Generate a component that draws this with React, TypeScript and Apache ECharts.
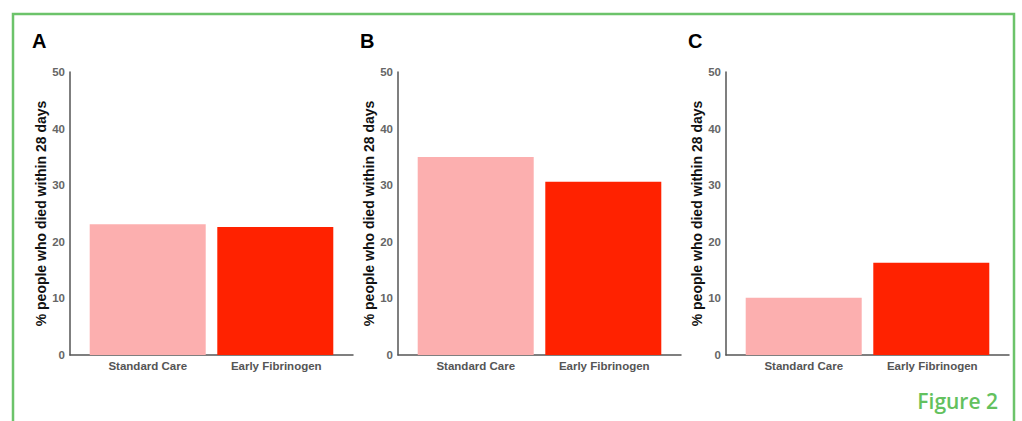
import React, { useEffect, useRef } from "react";
import * as echarts from "echarts";

const categories = ["Standard Care", "Early Fibrinogen"];
const panelLetters = ["A", "B", "C"];
const standardCare = [23.1, 35.0, 10.1];
const earlyFibrinogen = [22.6, 30.6, 16.3];
const yMin = 0;
const yMax = 50;
const yInterval = 10;
const yAxisTitle = "% people who died within 28 days";
const figureTitle = "Figure 2";

const gridLefts = [70, 398, 726];
const FONT = "'Liberation Sans', Arial, sans-serif";

export default function App() {
  const ref = useRef<HTMLDivElement>(null);
  useEffect(() => {
    if (!ref.current) return;
    const chart = echarts.init(ref.current, undefined, { renderer: "svg" });
    const grids = gridLefts.map((left) => ({ left, top: 72, width: 283, height: 283 }));
    const labelBase = { color: "#555", fontWeight: "bold", fontSize: 11.5, fontFamily: FONT };
    const xAxes = gridLefts.map((_, i) => ({
      type: "category",
      gridIndex: i,
      data: categories,
      axisLine: { show: true, lineStyle: { color: "#555", width: 1.5 } },
      axisTick: { show: false },
      axisLabel: {
        ...labelBase,
        margin: 5,
        formatter: (v: string, idx: number) => (idx === 0 ? `{l|${v}}` : `{r|${v}}`),
        rich: {
          l: { ...labelBase, padding: [0, 0, 0, 14] },
          r: { ...labelBase, padding: [0, 12, 0, 0] },
        },
      },
    }));
    const yAxes = gridLefts.map((_, i) => ({
      type: "value",
      gridIndex: i,
      min: yMin,
      max: yMax,
      interval: yInterval,
      name: yAxisTitle,
      nameLocation: "middle",
      nameGap: 20,
      nameTextStyle: { color: "#111", fontWeight: "bold", fontSize: 14, fontFamily: FONT },
      axisLine: { show: true, lineStyle: { color: "#555", width: 1.5 } },
      axisTick: { show: false },
      splitLine: { show: false },
      axisLabel: { color: "#666", fontWeight: "bold", fontSize: 11.5, fontFamily: FONT, margin: 5 },
    }));
    const series: any[] = [];
    gridLefts.forEach((_, i) => {
      series.push({
        type: "bar",
        name: categories[1],
        xAxisIndex: i,
        yAxisIndex: i,
        data: ["-", earlyFibrinogen[i]],
        barWidth: 116,
        barGap: "-88%",
        itemStyle: { color: "#ff2200" },
      });
      series.push({
        type: "bar",
        name: categories[0],
        xAxisIndex: i,
        yAxisIndex: i,
        data: [standardCare[i], "-"],
        barWidth: 116,
        barGap: "-88%",
        itemStyle: { color: "#fcafaf" },
      });
    });
    const graphic: any[] = [
      {
        type: "rect",
        shape: { x: 13, y: 14, width: 1001, height: 430 },
        style: { fill: "none", stroke: "#6cc36a", lineWidth: 2.5 },
        silent: true,
      },
      ...panelLetters.map((t, i) => ({
        type: "text",
        left: gridLefts[i] - 38,
        top: 31,
        style: { text: t, fill: "#000", font: `bold 20px ${FONT}` },
      })),
      {
        type: "text",
        right: 24,
        top: 390,
        style: { text: figureTitle, fill: "#63c15e", font: `600 21px 'Open Sans', ${FONT}` },
      },
    ];
    chart.setOption({
      animation: false,
      backgroundColor: "#fff",
      grid: grids,
      xAxis: xAxes,
      yAxis: yAxes,
      series,
      graphic,
    });
    return () => chart.dispose();
  }, []);
  return (
    <div
      ref={ref}
      style={{ position: "fixed", left: 0, top: 0, width: 1022, height: 421, background: "#fff" }}
    />
  );
}
